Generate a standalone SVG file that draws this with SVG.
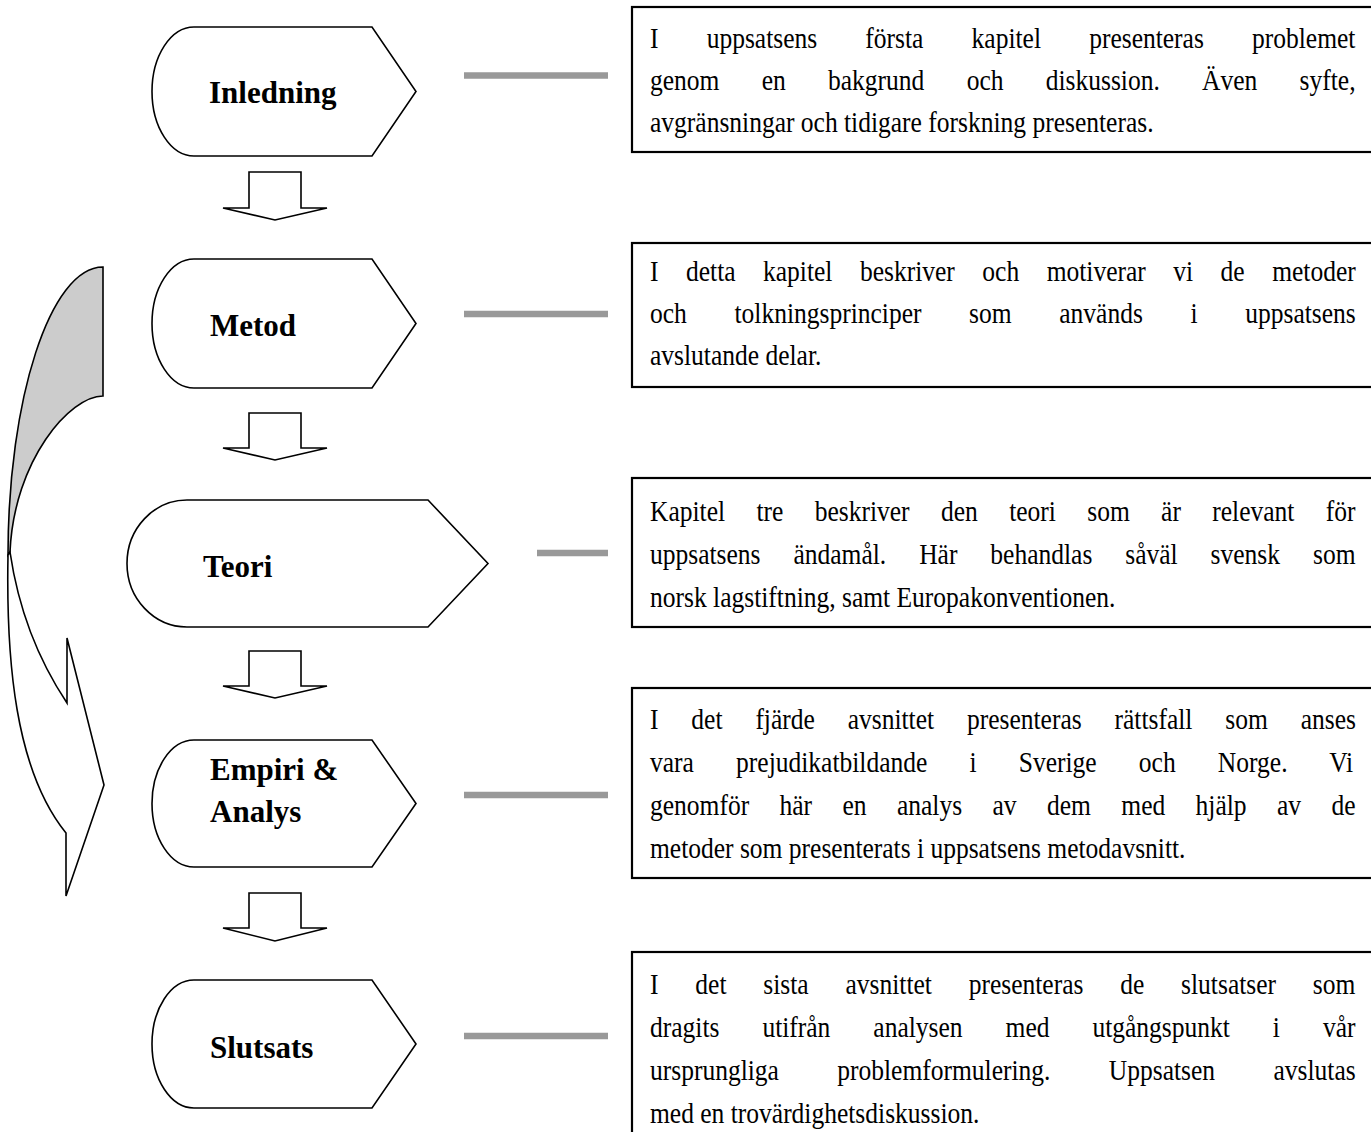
<svg xmlns="http://www.w3.org/2000/svg" width="1371" height="1132" viewBox="0 0 1371 1132">
<style>
.bg{fill:#ffffff}
.node{fill:#ffffff;stroke:#000;stroke-width:1.6;stroke-linejoin:miter}
.lbl{font-family:"Liberation Serif","Times New Roman",serif;font-weight:bold;font-size:31px;fill:#000}
.box{fill:#ffffff;stroke:#000;stroke-width:2.2}
.txt{font-family:"Liberation Serif","Times New Roman",serif;font-size:29px;fill:#000}
.blk{fill:#ffffff;stroke:#000;stroke-width:1.6;stroke-linejoin:miter}
.gl{stroke:#999999;stroke-width:6.5;fill:none}
.back{fill:#cccccc;stroke:#000;stroke-width:1.6}
.front{fill:#ffffff;stroke:#000;stroke-width:1.6}
</style>
<rect class="bg" x="0" y="0" width="1371" height="1132"/>

<g id="curved-arrow">
<path class="back" d="M103,267 C50,267 8,400 8,555 L10,552 C14,460 70,396 103,396 Z"/>
<path class="front" d="M8,555 C6,660 15,770 66,833 L66,896 L104,785 L67,638 L67,703 C45,670 20,620 10,552 Z"/>
</g>

<g id="connectors">
<path class="blk" d="M249,172 L301,172 L301,208 L327,208 L275,220 L223,208 L249,208 Z"/>
<path class="blk" d="M249,413 L301,413 L301,448 L327,448 L275,460 L223,448 L249,448 Z"/>
<path class="blk" d="M249,651 L301,651 L301,686 L327,686 L275,698 L223,686 L249,686 Z"/>
<path class="blk" d="M249,893 L301,893 L301,928 L327,928 L275,941 L223,928 L249,928 Z"/>
<line class="gl" x1="464" y1="75.5" x2="608" y2="75.5"/>
<line class="gl" x1="464" y1="314" x2="608" y2="314"/>
<line class="gl" x1="537" y1="553" x2="608" y2="553"/>
<line class="gl" x1="464" y1="795" x2="608" y2="795"/>
<line class="gl" x1="464" y1="1036" x2="608" y2="1036"/>
</g>

<g id="node-inledning">
<path class="node" d="M194,27 L372,27 L416,91.5 L372,156 L194,156 A42,64.5 0 0 1 152,91.5 A42,64.5 0 0 1 194,27 Z"/>
<text class="lbl" x="209" y="103">Inledning</text>
</g>
<g id="node-metod">
<path class="node" d="M194,259 L372,259 L416,323.5 L372,388 L194,388 A42,64.5 0 0 1 152,323.5 A42,64.5 0 0 1 194,259 Z"/>
<text class="lbl" x="210" y="336">Metod</text>
</g>
<g id="node-teori">
<path class="node" d="M187,500 L428,500 L488,563.5 L428,627 L187,627 A60,63.5 0 0 1 127,563.5 A60,63.5 0 0 1 187,500 Z"/>
<text class="lbl" x="203" y="577">Teori</text>
</g>
<g id="node-empiri">
<path class="node" d="M194,740 L372,740 L416,803.5 L372,867 L194,867 A42,63.5 0 0 1 152,803.5 A42,63.5 0 0 1 194,740 Z"/>
<text class="lbl" x="210" y="780">Empiri &amp;</text>
<text class="lbl" x="210" y="822">Analys</text>
</g>
<g id="node-slutsats">
<path class="node" d="M194,980 L372,980 L416,1044 L372,1108 L194,1108 A42,64 0 0 1 152,1044 A42,64 0 0 1 194,980 Z"/>
<text class="lbl" x="210" y="1058">Slutsats</text>
</g>

<g id="box-1">
<rect class="box" x="632" y="7" width="760" height="145"/>
<g transform="translate(650,0) scale(0.88,1)">
<text class="txt" x="0" y="48" word-spacing="47.5">I uppsatsens första kapitel presenteras problemet</text>
<text class="txt" x="0" y="90" word-spacing="40.8">genom en bakgrund och diskussion. Även syfte,</text>
<text class="txt" x="0" y="132">avgränsningar och tidigare forskning presenteras.</text>
</g>
</g>
<g id="box-2">
<rect class="box" x="632" y="243" width="760" height="144"/>
<g transform="translate(650,0) scale(0.88,1)">
<text class="txt" x="0" y="281" word-spacing="24">I detta kapitel beskriver och motiverar vi de metoder</text>
<text class="txt" x="0" y="323" word-spacing="46.9">och tolkningsprinciper som används i uppsatsens</text>
<text class="txt" x="0" y="365">avslutande delar.</text>
</g>
</g>
<g id="box-3">
<rect class="box" x="632" y="478" width="760" height="149"/>
<g transform="translate(650,0) scale(0.88,1)">
<text class="txt" x="0" y="521" word-spacing="28.4">Kapitel tre beskriver den teori som är relevant för</text>
<text class="txt" x="0" y="564" word-spacing="30.2">uppsatsens ändamål. Här behandlas såväl svensk som</text>
<text class="txt" x="0" y="607">norsk lagstiftning, samt Europakonventionen.</text>
</g>
</g>
<g id="box-4">
<rect class="box" x="632" y="688" width="760" height="190"/>
<g transform="translate(650,0) scale(0.88,1)">
<text class="txt" x="0" y="729" word-spacing="30.1">I det fjärde avsnittet presenteras rättsfall som anses</text>
<text class="txt" x="0" y="772" word-spacing="40.7">vara prejudikatbildande i Sverige och Norge. Vi</text>
<text class="txt" x="0" y="815" word-spacing="27.3">genomför här en analys av dem med hjälp av de</text>
<text class="txt" x="0" y="858">metoder som presenterats i uppsatsens metodavsnitt.</text>
</g>
</g>
<g id="box-5">
<rect class="box" x="632" y="952" width="760" height="200"/>
<g transform="translate(650,0) scale(0.88,1)">
<text class="txt" x="0" y="994" word-spacing="34.6">I det sista avsnittet presenteras de slutsatser som</text>
<text class="txt" x="0" y="1037" word-spacing="41.6">dragits utifrån analysen med utgångspunkt i vår</text>
<text class="txt" x="0" y="1080" word-spacing="59.1">ursprungliga problemformulering. Uppsatsen avslutas</text>
<text class="txt" x="0" y="1123">med en trovärdighetsdiskussion.</text>
</g>
</g>
</svg>
